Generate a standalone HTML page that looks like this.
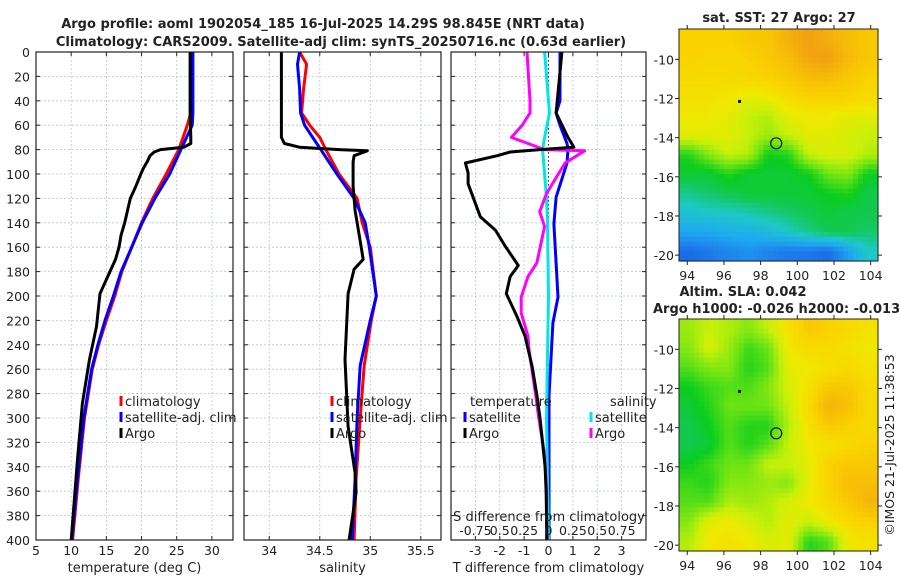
<!DOCTYPE html>
<html><head><meta charset="utf-8"><style>
body{margin:0;background:#fff}
svg{display:block;font-family:"DejaVu Sans","Liberation Sans",sans-serif}
</style></head><body>
<svg id="c" width="900" height="580" viewBox="0 0 900 580" xmlns="http://www.w3.org/2000/svg"></svg>
<script>
const depthA=[0,50,70,75,78,80,82,85,90,95,100,110,120,130,140,150,160,170,198,225,252,288,334,400];
const tempArgo=[26.9,26.9,27,27,26,22.7,21.8,21.2,20.8,20.3,19.9,19.2,18.4,18,17.6,17.1,16.8,16.3,14.1,13.6,12.6,11.6,10.9,10];
const depthC=[0,50,60,80,100,120,140,160,180,200,220,240,260,300,350,400];
const tempClim=[27,27,26.5,25.3,23.5,21.6,20,18.6,17.2,16.2,15,13.9,13,11.9,11,10.2];
const tempSat=[27.3,27.3,27.2,25.6,24,21.9,20.1,18.6,17.1,16,14.8,13.8,12.9,11.8,10.9,10.1];
const depthS=[0,10,30,50,60,70,80,100,120,140,160,200,220,257,300,350,400];
const salClim=[34.3,34.37,34.34,34.32,34.4,34.5,34.56,34.69,34.87,34.92,35.0,35.06,35.01,34.94,34.9,34.86,34.84];
const salSat=[34.3,34.28,34.3,34.31,34.35,34.43,34.51,34.67,34.84,34.95,34.99,35.06,35.0,34.9,34.87,34.85,34.82];
const depthSA=[0,70,75,78,80,81,85,90,110,130,150,170,178,198,252,307,345,361,400];
const salArgo=[34.12,34.12,34.15,34.3,34.69,34.97,34.84,34.83,34.83,34.85,34.89,34.93,34.84,34.78,34.75,34.78,34.85,34.86,34.79];
const depthDT=[0,50,70,78,80,82,85,91,99,108,135,146,159,175,184,198,217,233,258,282,300,340,360,400];
const dTargo=[0.55,0.31,0.8,1.04,-0.35,-1.57,-2.1,-3.41,-3.3,-3.3,-2.8,-2.18,-1.78,-1.24,-1.57,-1.73,-1.29,-0.96,-0.67,-0.47,-0.35,-0.14,-0.1,-0.06];
const depthDTs=[0,40,50,60,75,80,91,119,141,201,222,282,400];
const dTsat=[0.47,0.47,0.31,0.47,0.76,0.8,0.76,0.31,0.22,0.39,0.18,0.02,0.02];
const depthDS=[0,40,50,70,80,100,120,140,200,300,400];
const dSsat=[-0.04,0,0.01,-0.04,-0.06,-0.04,-0.02,-0.01,0,-0.02,0];
const depthDSA=[0,40,50,60,70,80,81,91,116,131,143,173,184,201,214,233,244,282,300,330,360,400];
const dSargo=[-0.22,-0.19,-0.19,-0.27,-0.38,-0.04,0.37,0.17,-0.02,-0.09,-0.04,-0.12,-0.21,-0.28,-0.28,-0.21,-0.2,-0.13,-0.1,-0.04,-0.02,-0.02];
const depthTicks=[0,20,40,60,80,100,120,140,160,180,200,220,240,260,280,300,320,340,360,380,400];
const tTicks=[5,10,15,20,25,30];
const sTicks=[34,34.5,35,35.5];
const dTicks=[-3,-2,-1,0,1,2,3];
const dSTickLabels=["-0.75","0.5","0.25","0","0.25","0.5","0.75"];
const mapLon=[94,96,98,100,102,104];
const mapLat=[-10,-12,-14,-16,-18,-20];
const sstGrid=[
[0.78,0.78,0.78,0.8,0.8,0.85,0.88,0.85,0.82,0.8],
[0.78,0.77,0.77,0.78,0.8,0.82,0.87,0.88,0.83,0.8],
[0.76,0.76,0.76,0.77,0.78,0.8,0.82,0.83,0.8,0.78],
[0.74,0.74,0.73,0.7,0.72,0.76,0.78,0.78,0.78,0.76],
[0.72,0.72,0.7,0.66,0.64,0.7,0.72,0.72,0.7,0.7],
[0.7,0.7,0.7,0.66,0.62,0.66,0.7,0.7,0.68,0.66],
[0.52,0.6,0.66,0.64,0.5,0.52,0.66,0.68,0.68,0.64],
[0.48,0.48,0.52,0.48,0.48,0.48,0.5,0.58,0.6,0.5],
[0.42,0.44,0.46,0.48,0.48,0.48,0.48,0.5,0.52,0.46],
[0.36,0.38,0.38,0.4,0.42,0.44,0.46,0.48,0.46,0.46],
[0.3,0.3,0.32,0.32,0.34,0.38,0.42,0.46,0.46,0.44],
[0.2,0.22,0.24,0.26,0.24,0.22,0.22,0.2,0.28,0.38]];
const slaGrid=[
[0.62,0.66,0.64,0.6,0.66,0.74,0.8,0.78,0.76,0.74],
[0.6,0.68,0.62,0.54,0.58,0.72,0.76,0.76,0.74,0.72],
[0.56,0.6,0.6,0.52,0.56,0.7,0.72,0.74,0.76,0.74],
[0.5,0.54,0.56,0.55,0.6,0.68,0.74,0.8,0.8,0.76],
[0.48,0.52,0.58,0.58,0.58,0.66,0.76,0.84,0.82,0.76],
[0.46,0.5,0.56,0.52,0.52,0.64,0.74,0.8,0.78,0.76],
[0.46,0.48,0.56,0.52,0.56,0.66,0.72,0.74,0.76,0.78],
[0.5,0.54,0.58,0.58,0.66,0.66,0.7,0.78,0.8,0.8],
[0.54,0.52,0.6,0.6,0.62,0.6,0.7,0.78,0.82,0.82],
[0.56,0.56,0.64,0.62,0.64,0.68,0.72,0.76,0.8,0.84],
[0.6,0.7,0.72,0.68,0.64,0.7,0.66,0.72,0.76,0.78],
[0.64,0.72,0.74,0.72,0.68,0.7,0.52,0.56,0.72,0.74]];
const argoLon=98.85, argoLat=-14.29, prevLon=96.85, prevLat=-12.15;

const NS="http://www.w3.org/2000/svg";
const svg=document.getElementById('c');
function mk(tag,attrs,parent){const e=document.createElementNS(NS,tag);for(const k in attrs)e.setAttribute(k,attrs[k]);(parent||svg).appendChild(e);return e;}
function txt(s,x,y,anchor,size,weight,parent){const t=mk('text',{x:x,y:y,'text-anchor':anchor||'middle','font-size':size||13,'font-weight':weight||'normal',fill:'#222'},parent);t.textContent=s;return t;}

const PT=52,PB=540;
const yD=d=>PT+(PB-PT)*d/400;
const panels=[
 {name:'temperature',x0:36,x1:233,min:5,max:33,ticks:tTicks,label:'temperature (deg C)'},
 {name:'salinity',x0:244,x1:441,min:33.75,max:35.7,ticks:sTicks,label:'salinity'},
 {name:'difference',x0:451,x1:646,min:-4,max:4,ticks:dTicks,label:'T difference from climatology'}];
panels.forEach((p,i)=>{
 p.sx=v=>p.x0+(p.x1-p.x0)*(v-p.min)/(p.max-p.min);
 const g=mk('g',{});
 
 
 p.ticks.forEach(t=>{mk('line',{x1:p.sx(t),x2:p.sx(t),y1:PT,y2:PB,stroke:'#b8c4dc','stroke-width':0.8,'stroke-dasharray':'2,2'},g);
   mk('line',{x1:p.sx(t),x2:p.sx(t),y1:PB,y2:PB-4,stroke:'#222'},g);mk('line',{x1:p.sx(t),x2:p.sx(t),y1:PT,y2:PT+4,stroke:'#222'},g);
   txt(String(t),p.sx(t),555,'middle',12.5,'normal',g);});
 depthTicks.forEach(d=>{if(d>0&&d<400)mk('line',{x1:p.x0,x2:p.x1,y1:yD(d),y2:yD(d),stroke:'#b8c4dc','stroke-width':0.8,'stroke-dasharray':'2,2'},g);
   mk('line',{x1:p.x0,x2:p.x0+4,y1:yD(d),y2:yD(d),stroke:'#222'},g);mk('line',{x1:p.x1,x2:p.x1-4,y1:yD(d),y2:yD(d),stroke:'#222'},g);
   if(i==0)txt(String(d),30,yD(d)+5,'end',12.5,'normal',g);});
 const lab=txt(p.label,(p.x0+p.x1)/2,572,'middle',13,'normal',g);
 
 
});
function line(p,xs,ds,color,name){const pts=xs.map((v,i)=>p.sx(v).toFixed(1)+','+yD(ds[i]).toFixed(1)).join(' ');
 const e=mk('polyline',{points:pts,fill:'none',stroke:color,'stroke-width':3,'stroke-linejoin':'round'});
 
 }
const P1=panels[0],P2=panels[1],P3=panels[2];
mk('line',{x1:P3.sx(0),x2:P3.sx(0),y1:PT,y2:PB,stroke:'#333','stroke-width':1,'stroke-dasharray':'1.5,2.5'});
line(P1,tempClim,depthC,'#ff0000','temp-climatology-line');
line(P1,tempSat,depthC,'#0000ff','temp-satellite-line');
line(P1,tempArgo,depthA,'#000','temp-argo-line');
line(P2,salClim,depthS,'#ff0000','sal-climatology-line');
line(P2,salSat,depthS,'#0000ff','sal-satellite-line');
line(P2,salArgo,depthSA,'#000','sal-argo-line');
const PS={sx:v=>P3.sx(v*4)};
line(P3,dTsat,depthDTs,'#0000ff','dT-satellite-line');
line(PS,dSsat,depthDS,'#00e5e5','dS-satellite-line');
line(PS,dSargo,depthDSA,'#ff00ff','dS-argo-line');
line(P3,dTargo,depthDT,'#000','dT-argo-line');
panels.forEach(p=>mk('rect',{x:p.x0,y:PT,width:p.x1-p.x0,height:PB-PT,fill:'none',stroke:'#222','stroke-width':1.2}));
const sl=txt('S difference from climatology',549,521,'middle',13);


dSTickLabels.forEach((s,i)=>txt(s,P3.sx(dTicks[i]),535,'middle',12.5));
function leg(x,y,color,label,name){const g=mk('g',{});
 
 
 mk('line',{x1:x,x2:x,y1:y-10,y2:y,stroke:color,'stroke-width':3},g);txt(label,x+4,y,'start',13,'normal',g);}
leg(121,406,'#ff0000','climatology','legend-climatology');
leg(121,422,'#0000ff','satellite-adj. clim','legend-satellite-adj');
leg(121,438,'#000','Argo','legend-argo');
leg(332,406,'#ff0000','climatology','legend-sal-climatology');
leg(332,422,'#0000ff','satellite-adj. clim','legend-sal-satellite-adj');
leg(332,438,'#000','Argo','legend-sal-argo');
txt('temperature',470,406,'start',13);
txt('salinity',610,406,'start',13);
leg(465,422,'#0000ff','satellite','legend-dT-satellite');
leg(465,438,'#000','Argo','legend-dT-argo');
leg(591,422,'#00e5e5','satellite','legend-dS-satellite');
leg(591,438,'#ff00ff','Argo','legend-dS-argo');
const t1=txt('Argo profile: aoml 1902054_185 16-Jul-2025 14.29S 98.845E (NRT data)',323,28,'middle',13,'bold');


const t2=txt('Climatology: CARS2009. Satellite-adj clim: synTS_20250716.nc (0.63d earlier)',341,46,'middle',13,'bold');


const stops=[[0.15,[20,80,210]],[0.22,[30,120,235]],[0.3,[30,170,240]],[0.38,[30,200,200]],[0.45,[20,200,90]],[0.5,[10,205,30]],[0.58,[110,228,20]],[0.66,[200,240,10]],[0.72,[240,232,0]],[0.78,[250,210,0]],[0.84,[245,180,10]],[0.9,[238,150,20]]];
function cmap(v){if(v<=stops[0][0])return 'rgb('+stops[0][1]+')';for(let i=1;i<stops.length;i++){if(v<=stops[i][0]){const a=stops[i-1],b=stops[i],f=(v-a[0])/(b[0]-a[0]);return 'rgb('+a[1].map((c,k)=>Math.round(c+(b[1][k]-c)*f)).join(',')+')';}}return 'rgb('+stops[stops.length-1][1]+')';}
function sample(grid,r,c){const R=grid.length-1,C=grid[0].length-1;r=Math.max(0,Math.min(R,r));c=Math.max(0,Math.min(C,c));
 const r0=Math.floor(r),c0=Math.floor(c),r1=Math.min(R,r0+1),c1=Math.min(C,c0+1),fr=r-r0,fc=c-c0;
 return grid[r0][c0]*(1-fr)*(1-fc)+grid[r0][c1]*(1-fr)*fc+grid[r1][c0]*fr*(1-fc)+grid[r1][c1]*fr*fc;}
function map(grid,y0,y1,name){const x0=679,x1=878,lo0=93.55,lo1=104.4,la0=-8.45,la1=-20.3;
 const sx=v=>x0+(x1-x0)*(v-lo0)/(lo1-lo0), sy=v=>y0+(y1-y0)*(v-la0)/(la1-la0);
 const g=mk('g',{});
 
 
 const rows=grid.length,cols=grid[0].length,up=4,nr=rows*up,nc=cols*up,cw=(x1-x0)/nc,ch=(y1-y0)/nr;
 for(let i=0;i<nr;i++)for(let j=0;j<nc;j++){const v=sample(grid,(i+0.5)/up-0.5,(j+0.5)/up-0.5);
  const c=mk('rect',{x:(x0+j*cw).toFixed(1),y:(y0+i*ch).toFixed(1),width:(cw+0.6).toFixed(1),height:(ch+0.6).toFixed(1),fill:cmap(v)},g);
  
  }
 mk('rect',{x:x0,y:y0,width:x1-x0,height:y1-y0,fill:'none',stroke:'#222'},g);
 mapLon.forEach(l=>{mk('line',{x1:sx(l),x2:sx(l),y1:y1,y2:y1+4,stroke:'#222'},g);mk('line',{x1:sx(l),x2:sx(l),y1:y0,y2:y0-4,stroke:'#222'},g);txt(String(l),sx(l),y1+19,'middle',12.5,'normal',g);});
 mapLat.forEach(l=>{mk('line',{x1:x0,x2:x0-4,y1:sy(l),y2:sy(l),stroke:'#222'},g);mk('line',{x1:x1,x2:x1+4,y1:sy(l),y2:sy(l),stroke:'#222'},g);txt(String(l),x0-5,sy(l)+5,'end',12.5,'normal',g);});
 mk('rect',{x:sx(prevLon)-1.5,y:sy(prevLat)-1.5,width:3,height:3,fill:'#111'},g);
 const c=mk('circle',{cx:sx(argoLon),cy:sy(argoLat),r:5.5,fill:'none',stroke:'#111','stroke-width':1.2},g);
 
 }
map(sstGrid,29,261,'sst-map');
map(slaGrid,319,551,'sla-map');
txt('sat. SST: 27 Argo: 27',779,22,'middle',13,'bold');
txt('Altim. SLA: 0.042',743,296,'middle',13,'bold');
txt('Argo h1000: -0.026 h2000: -0.013',653,313,'start',13,'bold');
const ts=mk('text',{x:0,y:0,'text-anchor':'middle','font-size':12.5,fill:'#222',transform:'translate(894,445) rotate(-90)'});
ts.textContent='©IMOS 21-Jul-2025 11:38:53';


</script>
</body></html>
